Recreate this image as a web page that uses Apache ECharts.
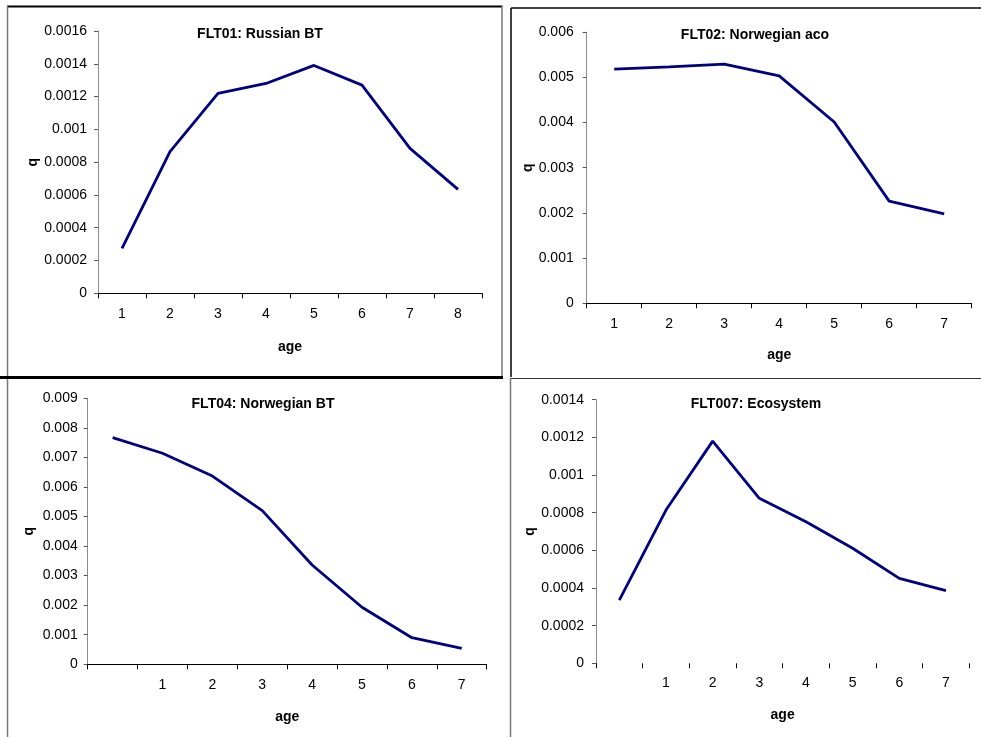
<!DOCTYPE html>
<html>
<head>
<meta charset="utf-8">
<script src="https://cdn.jsdelivr.net/npm/echarts@6/dist/echarts.min.js"></script>
<style>
html,body{margin:0;padding:0;background:#fff;}
#chart{width:981px;height:737px;}
</style>
</head>
<body>
<div id="chart"></div>
<script>
// ---- data ----
const titles = ['FLT01: Russian BT', 'FLT02: Norwegian aco', 'FLT04: Norwegian BT', 'FLT007: Ecosystem'];
const cats01 = ['1', '2', '3', '4', '5', '6', '7', '8'];
const cats02 = ['1', '2', '3', '4', '5', '6', '7'];
const cats04 = ['', '1', '2', '3', '4', '5', '6', '7'];
const cats007 = ['', '1', '2', '3', '4', '5', '6', '7'];
const flt01 = [0.000274, 0.000864, 0.00122, 0.00128, 0.00139, 0.00127, 0.000884, 0.000634];
const flt02 = [0.00518, 0.00523, 0.00529, 0.00503, 0.00401, 0.00226, 0.00198];
const flt04 = [0.00767, 0.00714, 0.00637, 0.0052, 0.00336, 0.00193, 0.0009, 0.00054];
const flt007 = [0.000336, 0.000814, 0.00118, 0.000876, 0.000752, 0.000611, 0.000451, 0.000386];
const yMax = [0.0016, 0.006, 0.009, 0.0014];
const yStep = [0.0002, 0.001, 0.001, 0.0002];
const xName = 'age';
const yName = 'q';

// ---- layout ----
const FONT = "'Liberation Sans', Arial, sans-serif";
const grids = [
  {left: 98, top: 31, width: 384, height: 262.3},
  {left: 586.7, top: 32.1, width: 385, height: 271.2},
  {left: 87.7, top: 398.3, width: 399, height: 266},
  {left: 596, top: 399.7, width: 373.3, height: 263.6}
];
const titlePos = [[260, 27], [755, 28], [263, 397], [756, 397]];
const yLabelMargin = [11, 13, 10, 12];
const xLabelMargin = [14, 14, 14, 13];
const xNameGap = [47, 45, 45.5, 45];
const yNameGap = [58, 50, 52, 53];
const catsList = [cats01, cats02, cats04, cats007];
const seriesData = [flt01, flt02, flt04, flt007];

const option = {
  animation: false,
  backgroundColor: '#fff',
  title: titles.map((t, i) => ({
    text: t, left: titlePos[i][0], top: titlePos[i][1], textAlign: 'center', padding: 0,
    textStyle: {fontFamily: FONT, fontSize: 14, fontWeight: 'bold', color: '#000'}
  })),
  grid: grids.map(g => Object.assign({containLabel: false}, g)),
  xAxis: catsList.map((c, i) => ({
    type: 'category', gridIndex: i, data: c, boundaryGap: true,
    name: xName, nameLocation: 'middle', nameGap: xNameGap[i],
    nameTextStyle: {fontFamily: FONT, fontSize: 14, fontWeight: 'bold', color: '#000'},
    axisLine: {show: i !== 3, lineStyle: {color: '#000', width: 1}},
    axisTick: {show: true, length: 5, lineStyle: {color: '#000'}},
    axisLabel: {fontFamily: FONT, fontSize: 14, color: '#000', margin: xLabelMargin[i], interval: 0},
    splitLine: {show: false}
  })),
  yAxis: yMax.map((m, i) => ({
    type: 'value', gridIndex: i, min: 0, max: m, interval: yStep[i],
    name: yName, nameLocation: 'middle', nameGap: yNameGap[i],
    nameTextStyle: {fontFamily: FONT, fontSize: 14, fontWeight: 'bold', color: '#000'},
    axisLine: {show: true, lineStyle: {color: '#8c8c8c', width: 1}},
    axisTick: {show: true, length: 4, lineStyle: {color: '#555'}},
    axisLabel: {fontFamily: FONT, fontSize: 14, color: '#000', margin: yLabelMargin[i]},
    splitLine: {show: false}
  })),
  series: seriesData.map((d, i) => ({
    type: 'line', xAxisIndex: i, yAxisIndex: i, data: d,
    symbol: 'none', smooth: false,
    lineStyle: {color: '#00007f', width: 2.8}
  })),
  graphic: [
    {type: 'line', shape: {x1: 7, y1: 6.5, x2: 502.5, y2: 6.5}, style: {stroke: '#000', lineWidth: 2}},
    {type: 'line', shape: {x1: 7.5, y1: 6, x2: 7.5, y2: 737}, style: {stroke: '#7a7a7a', lineWidth: 1.5}},
    {type: 'line', shape: {x1: 502, y1: 6, x2: 502, y2: 377}, style: {stroke: '#7a7a7a', lineWidth: 1.5}},
    {type: 'line', shape: {x1: 0, y1: 377.5, x2: 503, y2: 377.5}, style: {stroke: '#000', lineWidth: 3}},
    {type: 'line', shape: {x1: 511, y1: 8, x2: 981, y2: 8}, style: {stroke: '#000', lineWidth: 1.5}},
    {type: 'line', shape: {x1: 511, y1: 8, x2: 511, y2: 377}, style: {stroke: '#000', lineWidth: 1.5}},
    {type: 'line', shape: {x1: 510.5, y1: 378, x2: 510.5, y2: 737}, style: {stroke: '#7a7a7a', lineWidth: 1.5}},
    {type: 'line', shape: {x1: 511, y1: 378.5, x2: 981, y2: 378.5}, style: {stroke: '#333', lineWidth: 1}}
  ]
};

const chart = echarts.init(document.getElementById('chart'), null, {renderer: 'canvas'});
chart.setOption(option);
</script>
</body>
</html>
